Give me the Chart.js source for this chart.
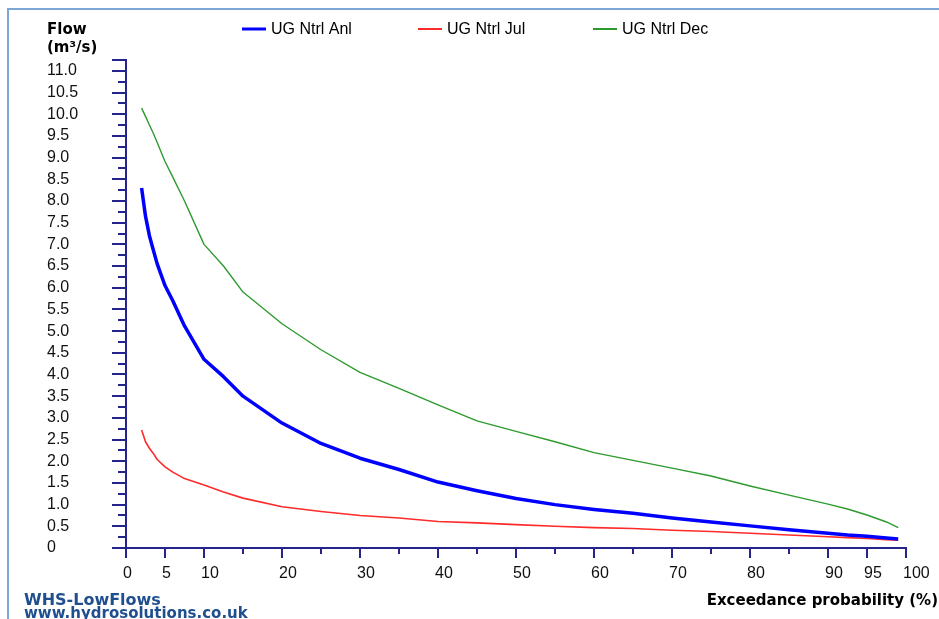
<!DOCTYPE html>
<html>
<head>
<meta charset="utf-8">
<script src="https://cdn.jsdelivr.net/npm/chart.js@4"></script>
<style>
  html, body { margin: 0; padding: 0; background: #fff; }
  #wrap { position: relative; width: 939px; height: 619px; overflow: hidden; }
</style>
</head>
<body>
<div id="wrap"><canvas id="myChart" width="939" height="619"></canvas></div>
<script>
// exceedance probability (%) and flows (m3/s)
var probability = [2, 2.5, 3, 3.5, 4, 5, 6, 7.5, 10, 12.5, 15, 20, 25, 30, 35, 40, 45, 50, 55, 60, 65, 70, 75, 80, 85, 90, 92.5, 95, 97.5, 99];
var flowAnl = [8.30, 7.65, 7.20, 6.87, 6.55, 6.05, 5.70, 5.12, 4.35, 3.95, 3.50, 2.88, 2.41, 2.07, 1.81, 1.52, 1.32, 1.14, 1.00, 0.89, 0.80, 0.69, 0.60, 0.51, 0.42, 0.34, 0.30, 0.27, 0.23, 0.21];
var flowJul = [2.72, 2.45, 2.30, 2.18, 2.04, 1.87, 1.75, 1.60, 1.45, 1.29, 1.15, 0.95, 0.84, 0.75, 0.69, 0.61, 0.58, 0.54, 0.50, 0.47, 0.45, 0.41, 0.38, 0.34, 0.30, 0.26, 0.24, 0.22, 0.19, 0.18];
var flowDec = [10.14, 9.95, 9.75, 9.56, 9.35, 8.91, 8.55, 8.00, 7.00, 6.50, 5.90, 5.17, 4.57, 4.05, 3.68, 3.30, 2.93, 2.69, 2.45, 2.20, 2.02, 1.84, 1.66, 1.43, 1.22, 1.01, 0.90, 0.76, 0.60, 0.47];
var seriesNames = ['UG Ntrl Anl', 'UG Ntrl Jul', 'UG Ntrl Dec'];
var xLabelTicks = [0, 5, 10, 20, 30, 40, 50, 60, 70, 80, 90, 95, 100];

function toPoints(vals) {
  return probability.map(function (p, i) { return { x: p, y: vals[i] }; });
}

var axisColor = '#24248c';
var labelFont = { family: "'Liberation Sans', Arial, sans-serif", size: 16 };

// axis tick marks (long at labelled values, short in between) + border + texts
var decorations = {
  id: 'decorations',
  afterDraw: function (chart) {
    var c = chart.ctx;
    var xs = chart.scales.x, ys = chart.scales.y;
    c.save();
    c.strokeStyle = axisColor;
    c.lineWidth = 2;
    ys.ticks.forEach(function (t) {
      var py = Math.round(ys.getPixelForValue(t.value));
      var major = Math.abs(t.value * 2 - Math.round(t.value * 2)) < 1e-6 || t.value === ys.max;
      c.beginPath();
      c.moveTo(ys.right - (major ? 14 : 8), py);
      c.lineTo(ys.right, py);
      c.stroke();
    });
    xs.ticks.forEach(function (t) {
      var px = Math.round(xs.getPixelForValue(t.value));
      var major = xLabelTicks.indexOf(t.value) >= 0;
      c.beginPath();
      c.moveTo(px, xs.top);
      c.lineTo(px, xs.top + (major ? 10 : 6));
      c.stroke();
    });

    // frame
    c.strokeStyle = '#7ea6d6';
    c.lineWidth = 2;
    c.beginPath();
    c.moveTo(8, 620);
    c.lineTo(8, 9);
    c.lineTo(940, 9);
    c.stroke();

    // legend
    c.font = "16px 'Liberation Sans', Arial, sans-serif";
    c.textBaseline = 'middle';
    c.textAlign = 'left';
    var lx = [242, 418, 593];
    chart.data.datasets.forEach(function (ds, i) {
      c.strokeStyle = ds.borderColor;
      c.lineWidth = i === 0 ? 3 : 2;
      c.beginPath();
      c.moveTo(lx[i], 29);
      c.lineTo(lx[i] + 24, 29);
      c.stroke();
      c.fillStyle = '#000';
      c.fillText(ds.label, lx[i] + 29, 30);
    });

    // axis titles
    c.textBaseline = 'alphabetic';
    c.fillStyle = '#000';
    c.font = "bold 15px 'DejaVu Sans', sans-serif";
    c.fillText('Flow', 47, 34);
    c.fillText('(m\u00b3/s)', 47, 52);
    c.textAlign = 'right';
    c.fillText('Exceedance probability (%)', 938, 605);

    // watermark
    c.textAlign = 'left';
    c.fillStyle = '#1f4f8f';
    c.font = "bold 16px 'DejaVu Sans', sans-serif";
    c.fillText('WHS-LowFlows', 24, 605);
    c.font = "bold 15px 'DejaVu Sans', sans-serif";
    c.fillText('www.hydrosolutions.co.uk', 24, 618);
    c.restore();
  }
};

var ctx = document.getElementById('myChart');

var myChart = new Chart(ctx, {
  type: 'line',
  data: {
    datasets: [{
      label: seriesNames[0],
      data: toPoints(flowAnl),
      borderColor: '#0000ff',
      borderWidth: 3.5
    }, {
      label: seriesNames[1],
      data: toPoints(flowJul),
      borderColor: '#ff2a2a',
      borderWidth: 1.6
    }, {
      label: seriesNames[2],
      data: toPoints(flowDec),
      borderColor: '#2e9a2e',
      borderWidth: 1.4
    }]
  },
  options: {
    responsive: false,
    animation: false,
    devicePixelRatio: 1,
    layout: { padding: { left: 47, right: 33, top: 60, bottom: 0 } },
    elements: {
      point: { radius: 0, hoverRadius: 0 },
      line: { tension: 0, borderJoinStyle: 'round', fill: false }
    },
    plugins: {
      legend: { display: false },
      tooltip: { enabled: false }
    },
    scales: {
      x: {
        type: 'linear',
        min: 0,
        max: 100,
        grid: { display: false, drawTicks: false },
        border: { display: true, color: axisColor, width: 2 },
        ticks: {
          stepSize: 5,
          autoSkip: false,
          maxRotation: 0,
          align: 'start',
          labelOffset: -3,
          padding: 16,
          color: '#111',
          font: labelFont,
          callback: function (v) { return xLabelTicks.indexOf(v) >= 0 ? String(v) : ''; }
        },
        afterFit: function (s) {
          s.height = 71;
          s.paddingLeft = 0;
          s.paddingRight = 0;
        }
      },
      y: {
        type: 'linear',
        min: 0,
        max: 11.25,
        grid: { display: false, drawTicks: false },
        border: { display: true, color: axisColor, width: 2 },
        ticks: {
          stepSize: 0.25,
          maxTicksLimit: 100,
          autoSkip: false,
          crossAlign: 'far',
          color: '#111',
          font: labelFont,
          callback: function (v) {
            if (Math.abs(v * 2 - Math.round(v * 2)) > 1e-6 || v > 11) return '';
            return v === 0 ? '0' : v.toFixed(1);
          }
        },
        afterFit: function (s) {
          s.width = 79;
          s.paddingTop = 0;
          s.paddingBottom = 0;
        }
      }
    }
  },
  plugins: [decorations]
});
</script>
</body>
</html>
